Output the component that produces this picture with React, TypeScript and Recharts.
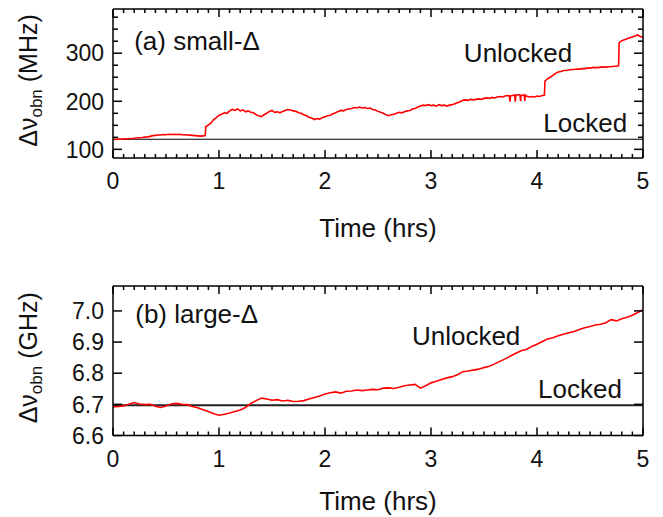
import React from 'react';
import { LineChart, Line, XAxis, YAxis, ReferenceDot } from 'recharts';

const FONT = '"Liberation Sans", Arial, Helvetica, sans-serif';

// ---------- panel (a): small detuning, MHz  [time (hrs), Δν (MHz)] ----------
const smallUnlockedPoints: [number, number][] = [
  [0.0, 121], [0.025, 120.5], [0.05, 121.5], [0.075, 121], [0.1, 122], [0.125, 121.5], [0.15, 122.5], [0.175, 122],
  [0.2, 123], [0.225, 123.5], [0.25, 124], [0.275, 124.5], [0.3, 125.5], [0.325, 126], [0.35, 127], [0.375, 128.5],
  [0.4, 129], [0.425, 130], [0.45, 130], [0.475, 131], [0.5, 130.5], [0.525, 131.5], [0.55, 131], [0.575, 131.5],
  [0.6, 131], [0.625, 131.5], [0.65, 130.5], [0.675, 130.5], [0.7, 130], [0.725, 129.5], [0.75, 129], [0.775, 128.5],
  [0.8, 128], [0.825, 127.5], [0.85, 128], [0.87, 128.5],
  [0.875, 147], [0.9, 151], [0.925, 155], [0.95, 162], [0.975, 166], [1.0, 171], [1.025, 173], [1.05, 176],
  [1.075, 175], [1.1, 180], [1.125, 183], [1.15, 181], [1.175, 184], [1.2, 180], [1.225, 182], [1.25, 178],
  [1.275, 180], [1.3, 177], [1.325, 176], [1.35, 172], [1.375, 170], [1.4, 168], [1.425, 172], [1.45, 175],
  [1.475, 179], [1.5, 181], [1.525, 177], [1.55, 178], [1.575, 176], [1.6, 179], [1.625, 181], [1.65, 183],
  [1.675, 182], [1.7, 180], [1.725, 179], [1.75, 176], [1.775, 175], [1.8, 172], [1.825, 170], [1.85, 167],
  [1.875, 165], [1.9, 162], [1.925, 164], [1.95, 163], [1.975, 166], [2.0, 168], [2.025, 170], [2.05, 171],
  [2.075, 174], [2.1, 176], [2.125, 179], [2.15, 181], [2.175, 180], [2.2, 183], [2.225, 184], [2.25, 185],
  [2.275, 187], [2.3, 186], [2.325, 188], [2.35, 186], [2.375, 187], [2.4, 185], [2.425, 186], [2.45, 183],
  [2.475, 182], [2.5, 179], [2.525, 177], [2.55, 175], [2.575, 172], [2.6, 170], [2.625, 172], [2.65, 173],
  [2.675, 175], [2.7, 177], [2.725, 176], [2.75, 178], [2.775, 180], [2.8, 181], [2.825, 184], [2.85, 185],
  [2.875, 188], [2.9, 190], [2.925, 192], [2.95, 191], [2.975, 193], [3.0, 191], [3.025, 192], [3.05, 190],
  [3.075, 193], [3.1, 191], [3.125, 192], [3.15, 190], [3.175, 192], [3.2, 193], [3.225, 195], [3.25, 197],
  [3.275, 199], [3.3, 202], [3.325, 203], [3.35, 202], [3.375, 204], [3.4, 203], [3.425, 204], [3.45, 205],
  [3.475, 204], [3.5, 206], [3.525, 207], [3.55, 206], [3.575, 208], [3.6, 207], [3.625, 209], [3.65, 210],
  [3.675, 209], [3.7, 211], [3.72, 212], [3.74, 211], [3.745, 199], [3.75, 211], [3.77, 212], [3.79, 213],
  [3.795, 199], [3.8, 212], [3.82, 214], [3.84, 213], [3.845, 200], [3.85, 212], [3.87, 213], [3.88, 212],
  [3.885, 201], [3.89, 213], [3.9, 211], [3.925, 209], [3.95, 210], [3.975, 209], [4.0, 211], [4.025, 210],
  [4.05, 212], [4.07, 213],
  [4.075, 242], [4.1, 247], [4.125, 250], [4.15, 254], [4.175, 258], [4.2, 261], [4.225, 262], [4.25, 264],
  [4.275, 264], [4.3, 265], [4.325, 266], [4.35, 266], [4.375, 267], [4.4, 267], [4.425, 268], [4.45, 268],
  [4.475, 269], [4.5, 269], [4.525, 270], [4.55, 270], [4.575, 270], [4.6, 271], [4.625, 271], [4.65, 271],
  [4.675, 272], [4.7, 272], [4.725, 273], [4.75, 273], [4.77, 274],
  [4.775, 322], [4.8, 326], [4.825, 328], [4.85, 330], [4.875, 332], [4.9, 334], [4.925, 336], [4.95, 338],
  [4.975, 335], [5.0, 333],
];
const smallLockedPoints: [number, number][] = [[0, 121], [1, 121], [2, 121], [3, 121], [4, 121], [5, 121]];
const smallYMajor = [100, 200, 300];
const smallYMinor = [125, 150, 175, 225, 250, 275, 325, 350, 375];

// ---------- panel (b): large detuning, GHz  [time (hrs), Δν (GHz)] ----------
const largeUnlockedPoints: [number, number][] = [
  [0.0, 6.692], [0.05, 6.693], [0.1, 6.695], [0.15, 6.7], [0.2, 6.706], [0.25, 6.701], [0.3, 6.699], [0.35, 6.7],
  [0.4, 6.694], [0.45, 6.69], [0.5, 6.695], [0.55, 6.701], [0.6, 6.703], [0.65, 6.7], [0.7, 6.699], [0.75, 6.693],
  [0.8, 6.689], [0.85, 6.683], [0.9, 6.677], [0.95, 6.67], [1.0, 6.665], [1.05, 6.668], [1.1, 6.672], [1.15, 6.677],
  [1.2, 6.682], [1.25, 6.69], [1.3, 6.703], [1.35, 6.712], [1.4, 6.72], [1.45, 6.717], [1.5, 6.713], [1.55, 6.715],
  [1.6, 6.711], [1.65, 6.713], [1.7, 6.709], [1.75, 6.71], [1.8, 6.712], [1.85, 6.717], [1.9, 6.722], [1.95, 6.727],
  [2.0, 6.733], [2.05, 6.737], [2.1, 6.74], [2.15, 6.736], [2.2, 6.742], [2.25, 6.743], [2.3, 6.746], [2.35, 6.744],
  [2.4, 6.746], [2.45, 6.748], [2.5, 6.747], [2.55, 6.752], [2.6, 6.753], [2.65, 6.751], [2.7, 6.755], [2.75, 6.76],
  [2.8, 6.762], [2.85, 6.764], [2.9, 6.752], [2.95, 6.76], [3.0, 6.769], [3.05, 6.774], [3.1, 6.78], [3.15, 6.785],
  [3.2, 6.789], [3.25, 6.795], [3.3, 6.805], [3.35, 6.807], [3.4, 6.81], [3.45, 6.813], [3.5, 6.818], [3.55, 6.822],
  [3.6, 6.83], [3.65, 6.838], [3.7, 6.846], [3.75, 6.855], [3.8, 6.864], [3.85, 6.872], [3.9, 6.876], [3.95, 6.886],
  [4.0, 6.893], [4.05, 6.902], [4.1, 6.91], [4.15, 6.914], [4.2, 6.92], [4.25, 6.925], [4.3, 6.93], [4.35, 6.934],
  [4.4, 6.94], [4.45, 6.946], [4.5, 6.95], [4.55, 6.955], [4.6, 6.957], [4.65, 6.962], [4.7, 6.972], [4.75, 6.968],
  [4.8, 6.975], [4.85, 6.98], [4.9, 6.986], [4.95, 6.995], [5.0, 7.004],
];
const largeLockedPoints: [number, number][] = [[0, 6.697], [1, 6.697], [2, 6.697], [3, 6.697], [4, 6.697], [5, 6.697]];
const largeYMajor = [6.6, 6.7, 6.8, 6.9, 7.0];

// ---------- shared x ticks ----------
const xMajor = [0, 1, 2, 3, 4, 5];
const xMinor = Array.from({ length: 51 }, (_, i) => i / 10).filter((v) => !xMajor.some((m) => Math.abs(m - v) < 1e-6));
const xTicks = [...xMajor, ...xMinor].sort((a, b) => a - b);
const X_DOMAIN: [number, number] = [0, 5];

const toData = (pts: [number, number][]) => pts.map(([t, v]) => ({ t, v }));
const isIn = (list: number[], v: number) => list.some((m) => Math.abs(m - v) < 1e-6);

const AXIS_LINE = { stroke: '#000', strokeWidth: 1.5 };

function XTickLabel(props: any) {
  const x = Number(props.x);
  const y = Number(props.y);
  const v = props.payload.value;
  if (!isIn(xMajor, v)) return <g />;
  return (
    <text x={x} y={y + 31} textAnchor="middle" fontSize={23} fontFamily={FONT} fill="#111">
      {String(v)}
    </text>
  );
}

function YTickLabel(props: any) {
  const x = Number(props.x);
  const y = Number(props.y);
  const { payload, majors, digits } = props;
  const v = payload.value;
  if (!isIn(majors, v)) return <g />;
  return (
    <text x={x - 9} y={y} dy="0.36em" textAnchor="end" fontSize={23} fontFamily={FONT} fill="#111">
      {v.toFixed(digits)}
    </text>
  );
}

// inward tick mark drawn from the axis point given by the chart scales
const tickMark = (dx: number, dy: number) => (p: any) => (
  <path d={`M${p.cx},${p.cy}L${p.cx + dx},${p.cy + dy}`} stroke="#000" strokeWidth={1.5} fill="none" />
);

const note = (text: string) => (p: any) => (
  <text x={p.cx} y={p.cy} fontSize={26} fontFamily={FONT} fill="#111">
    {text}
  </text>
);

const yTitle = (unit: string) => (p: any) => {
  const vb = p.viewBox || {};
  const cx = vb.x + vb.width - 76;
  const cy = vb.y + vb.height / 2 - 3;
  return (
    <text
      x={cx}
      y={cy}
      transform={`rotate(-90, ${cx}, ${cy})`}
      textAnchor="middle"
      fontSize={25}
      fontFamily={FONT}
      fill="#111"
    >
      Δν
      <tspan fontSize={17} dy={5}>obn</tspan>
      <tspan dy={-5}> ({unit})</tspan>
    </text>
  );
};

const xTitle = (dyPx: number) => (p: any) => {
  const vb = p.viewBox || {};
  return (
    <text x={vb.x + vb.width / 2} y={vb.y + dyPx} textAnchor="middle" fontSize={26} fontFamily={FONT} fill="#111">
      Time (hrs)
    </text>
  );
};

interface PanelProps {
  height: number;
  margin: { top: number; right: number; bottom: number; left: number };
  domain: [number, number];
  yTicks: number[];
  yMajor: number[];
  digits: number;
  unit: string;
  xTitleDy: number;
  unlocked: { t: number; v: number }[];
  locked: { t: number; v: number }[];
  lockedWidth: number;
  lockedColor: string;
  notes: { x: number; y: number; text: string }[];
}

function Panel(p: PanelProps) {
  const [yLo, yHi] = p.domain;
  const [xLo, xHi] = X_DOMAIN;
  return (
    <LineChart width={663} height={p.height} margin={p.margin}>
      <XAxis
        xAxisId="b"
        type="number"
        dataKey="t"
        domain={X_DOMAIN}
        ticks={xTicks}
        interval={0}
        orientation="bottom"
        height={1}
        tickSize={0}
        tickMargin={0}
        tickLine={false}
        axisLine={AXIS_LINE}
        tick={<XTickLabel />}
        label={{ content: xTitle(p.xTitleDy) }}
      />
      <XAxis
        xAxisId="t"
        type="number"
        dataKey="t"
        domain={X_DOMAIN}
        ticks={xTicks}
        interval={0}
        orientation="top"
        height={1}
        tickSize={0}
        tickLine={false}
        axisLine={AXIS_LINE}
        tick={false}
      />
      <YAxis
        yAxisId="l"
        type="number"
        domain={p.domain}
        ticks={p.yTicks}
        interval={0}
        orientation="left"
        width={1}
        tickSize={0}
        tickMargin={0}
        tickLine={false}
        axisLine={AXIS_LINE}
        tick={<YTickLabel majors={p.yMajor} digits={p.digits} />}
        label={{ content: yTitle(p.unit) }}
      />
      <YAxis
        yAxisId="r"
        type="number"
        domain={p.domain}
        ticks={p.yTicks}
        interval={0}
        orientation="right"
        width={1}
        tickSize={0}
        tickLine={false}
        axisLine={AXIS_LINE}
        tick={false}
      />
      <Line
        xAxisId="b"
        yAxisId="l"
        data={p.locked}
        dataKey="v"
        type="linear"
        stroke={p.lockedColor}
        strokeWidth={p.lockedWidth}
        dot={false}
        isAnimationActive={false}
      />
      <Line
        xAxisId="t"
        yAxisId="r"
        data={p.locked}
        dataKey="v"
        type="linear"
        stroke="none"
        dot={false}
        isAnimationActive={false}
      />
      <Line
        xAxisId="b"
        yAxisId="l"
        data={p.unlocked}
        dataKey="v"
        type="linear"
        stroke="#ff0000"
        strokeWidth={1.6}
        dot={false}
        isAnimationActive={false}
      />
      {xTicks.map((v) => {
        const len = isIn(xMajor, v) ? 8 : 4;
        return [
          <ReferenceDot key={`xb${v}`} xAxisId="b" yAxisId="l" x={v} y={yLo} r={0} ifOverflow="visible" shape={tickMark(0, -len)} />,
          <ReferenceDot key={`xt${v}`} xAxisId="b" yAxisId="l" x={v} y={yHi} r={0} ifOverflow="visible" shape={tickMark(0, len)} />,
        ];
      })}
      {p.yTicks.map((v) => {
        const len = isIn(p.yMajor, v) ? 9 : 5;
        return [
          <ReferenceDot key={`yl${v}`} xAxisId="b" yAxisId="l" x={xLo} y={v} r={0} ifOverflow="visible" shape={tickMark(len, 0)} />,
          <ReferenceDot key={`yr${v}`} xAxisId="b" yAxisId="l" x={xHi} y={v} r={0} ifOverflow="visible" shape={tickMark(-len, 0)} />,
        ];
      })}
      {p.notes.map((n) => (
        <ReferenceDot key={n.text} xAxisId="b" yAxisId="l" x={n.x} y={n.y} r={0} shape={note(n.text)} />
      ))}
    </LineChart>
  );
}

export default function App() {
  return (
    <div style={{ position: 'absolute', left: 0, top: 0, width: 663, height: 517, background: '#fff' }}>
      <Panel
        height={260}
        margin={{ top: 8, right: 19, bottom: 101, left: 112 }}
        domain={[82, 392]}
        yTicks={[...smallYMajor, ...smallYMinor].sort((a, b) => a - b)}
        yMajor={smallYMajor}
        digits={0}
        unit="MHz"
        xTitleDy={79}
        unlocked={toData(smallUnlockedPoints)}
        locked={toData(smallLockedPoints)}
        lockedWidth={1.2}
        lockedColor="#000"
        notes={[
          { x: 0.2, y: 307, text: '(a) small-Δ' },
          { x: 3.31, y: 282, text: 'Unlocked' },
          { x: 4.06, y: 137, text: 'Locked' },
        ]}
      />
      <Panel
        height={257}
        margin={{ top: 25, right: 19, bottom: 80.5, left: 112 }}
        domain={[6.6, 7.08]}
        yTicks={largeYMajor}
        yMajor={largeYMajor}
        digits={1}
        unit="GHz"
        xTitleDy={74}
        unlocked={toData(largeUnlockedPoints)}
        locked={toData(largeLockedPoints)}
        lockedWidth={2}
        lockedColor="#222"
        notes={[
          { x: 0.21, y: 6.962, text: '(b) large-Δ' },
          { x: 2.82, y: 6.891, text: 'Unlocked' },
          { x: 4.01, y: 6.72, text: 'Locked' },
        ]}
      />
    </div>
  );
}
